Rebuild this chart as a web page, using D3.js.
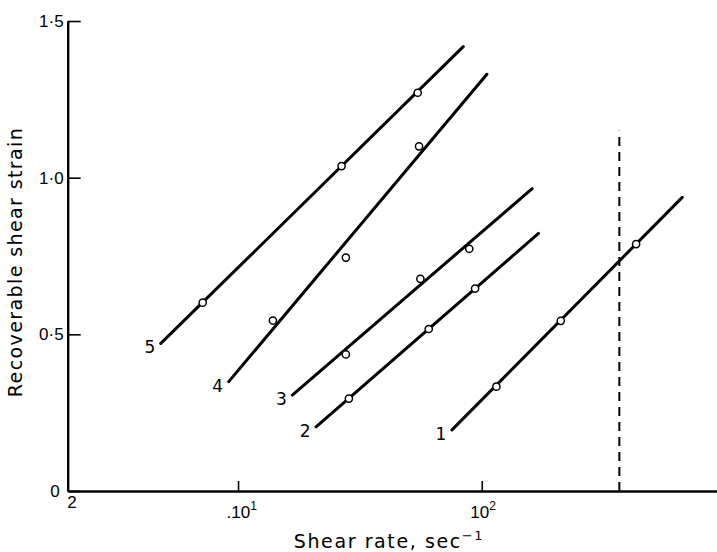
<!DOCTYPE html>
<html>
<head>
<meta charset="utf-8">
<script src="https://cdn.jsdelivr.net/npm/d3@7"></script>
<style>
  body { margin: 0; background: #fff; }
  svg { display: block; font-family: 'DejaVu Sans', sans-serif; }
</style>
</head>
<body>
<svg class="graph"></svg>
<script>
// curve numbers and the fitted straight lines (start / end)
const curveIds = ['1', '2', '3', '4', '5'];
const lineFromX = [75.5, 20.9, 16.7, 9.16, 4.82];
const lineFromY = [0.195, 0.205, 0.306, 0.349, 0.471];
const lineToX = [665, 171, 161, 105, 84];
const lineToY = [0.937, 0.822, 0.965, 1.33, 1.418];

// measured points (open circles)
const pointX = [
  [114.8, 211, 430],
  [28.5, 60.6, 93.9],
  [27.7, 56.0, 88.9],
  [13.9, 27.7, 55.3],
  [7.16, 26.6, 54.6]
];
const pointY = [
  [0.333, 0.543, 0.788],
  [0.295, 0.517, 0.646],
  [0.436, 0.677, 0.773],
  [0.544, 0.745, 1.10],
  [0.601, 1.037, 1.271]
];

const criticalRate = 367;
const criticalTop = 1.15;

const xTicks = [2, 10, 100];
const xTickLabels = [['2', ''], ['.10', '1'], ['10', '2']];
const yTicks = [0, 0.5, 1.0, 1.5];
const yTickLabels = ['0', '0·5', '1·0', '1·5'];

const width = 717;
const height = 552;
const svg = d3.select('.graph')
  .attr('width', width)
  .attr('height', height);

const x = d3.scaleLog()
  .domain([2, 1000])
  .range([67.7, 67.7 + Math.log10(500) * 243.7]);
const y = d3.scaleLinear()
  .domain([0, 1.5])
  .range([491, 21]);

// y axis, ticks pointing inward
const yAxis = svg.append('g')
  .attr('transform', `translate(${x(2)},0)`)
  .call(d3.axisLeft(y)
    .tickValues(yTicks)
    .tickSizeInner(-13)
    .tickSizeOuter(0)
    .tickPadding(4)
    .tickFormat((d, i) => yTickLabels[i]));
yAxis.select('.domain').attr('stroke-width', 2.4);
yAxis.selectAll('.tick line').attr('stroke-width', 1.6);
yAxis.selectAll('.tick text')
  .attr('font-size', 17)
  .attr('fill', '#000');
yAxis.selectAll('.tick').filter(d => d === 0).select('text').attr('dx', -4);

// x axis
const xAxis = svg.append('g')
  .attr('transform', `translate(0,${y(0)})`)
  .call(d3.axisBottom(x)
    .tickValues(xTicks)
    .tickSizeInner(-10)
    .tickSizeOuter(0)
    .tickFormat(''));
xAxis.select('.domain').attr('stroke-width', 2.4);
xAxis.selectAll('.tick line')
  .attr('stroke-width', 1.6)
  .attr('opacity', d => (d === 2 ? 0 : 1));
xAxis.selectAll('.tick').each(function(d, i) {
  const t = d3.select(this).append('text')
    .attr('fill', '#000')
    .attr('font-size', 17)
    .attr('text-anchor', 'start')
    .attr('x', d === 2 ? -1 : -12)
    .attr('y', d === 2 ? 17 : 27);
  t.append('tspan').text(xTickLabels[i][0]);
  t.append('tspan')
    .attr('font-size', 12)
    .attr('dy', -8)
    .text(xTickLabels[i][1]);
});

// axis titles
const xTitle = svg.append('text')
  .attr('x', 389)
  .attr('y', 548)
  .attr('text-anchor', 'middle')
  .attr('font-size', 19)
  .attr('letter-spacing', 1.6);
xTitle.append('tspan').text('Shear rate, sec');
xTitle.append('tspan').attr('font-size', 13).attr('dy', -8).text('−1');

svg.append('text')
  .attr('transform', 'translate(22,262) rotate(-90)')
  .attr('text-anchor', 'middle')
  .attr('font-size', 19)
  .attr('letter-spacing', 1.4)
  .text('Recoverable shear strain');

// dashed critical line
svg.append('line')
  .attr('x1', x(criticalRate))
  .attr('x2', x(criticalRate))
  .attr('y1', y(0))
  .attr('y2', y(criticalTop))
  .attr('stroke', '#000')
  .attr('stroke-width', 2)
  .attr('stroke-dasharray', '9,6');

const curves = svg.append('g');

curves.selectAll('line.fit')
  .data(curveIds)
  .enter()
  .append('line')
  .attr('class', 'fit')
  .attr('x1', (d, i) => x(lineFromX[i]))
  .attr('y1', (d, i) => y(lineFromY[i]))
  .attr('x2', (d, i) => x(lineToX[i]))
  .attr('y2', (d, i) => y(lineToY[i]))
  .attr('stroke', '#000')
  .attr('stroke-width', 3)
  .attr('stroke-linecap', 'round');

curves.selectAll('text')
  .data(curveIds)
  .enter()
  .append('text')
  .attr('x', (d, i) => x(lineFromX[i]) - 11)
  .attr('y', (d, i) => y(lineFromY[i]) + 4)
  .attr('text-anchor', 'middle')
  .attr('dy', '0.35em')
  .attr('font-size', 17)
  .text(d => d);

const pts = [];
curveIds.forEach((id, i) => {
  pointX[i].forEach((v, j) => pts.push({ x: v, y: pointY[i][j] }));
});

curves.selectAll('circle')
  .data(pts)
  .enter()
  .append('circle')
  .attr('cx', d => x(d.x))
  .attr('cy', d => y(d.y))
  .attr('r', 3.6)
  .attr('fill', '#fff')
  .attr('stroke', '#000')
  .attr('stroke-width', 1.5);
</script>
</body>
</html>
